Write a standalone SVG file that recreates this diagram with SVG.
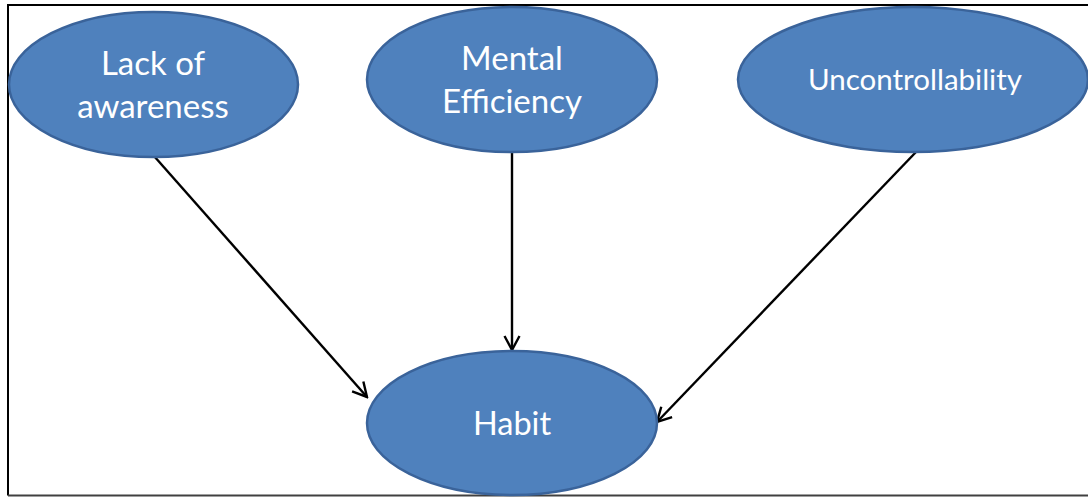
<svg xmlns="http://www.w3.org/2000/svg" width="1088" height="497" viewBox="0 0 1088 497">
  <style>
    .node ellipse { fill: #4f81bd; stroke: #3a639a; stroke-width: 2.5; }
    .node text { fill: #ffffff; font-family: Lato, "Open Sans", "Liberation Sans", sans-serif; text-anchor: middle; }
    .edge { stroke: #000000; stroke-width: 2.4; fill: none; marker-end: url(#open-arrow); }
  </style>
  <defs>
    <marker id="open-arrow" viewBox="0 0 18 18" refX="16" refY="9" markerWidth="18" markerHeight="18" markerUnits="userSpaceOnUse" orient="auto">
      <path d="M2,1.5 L16,9 L2,16.5" fill="none" stroke="#000000" stroke-width="2.4"/>
    </marker>
  </defs>

  <rect x="0" y="0" width="1088" height="497" fill="#ffffff"/>
  <!-- frame -->
  <path d="M1090,5 L8,5 L8,495.5" fill="none" stroke="#000000" stroke-width="2"/>
  <line x1="8" y1="495.5" x2="1090" y2="495.5" stroke="#404040" stroke-width="2"/>

  <g id="connectors">
    <line class="edge" x1="154" y1="156" x2="367" y2="397"/>
    <line class="edge" x1="512" y1="152" x2="512" y2="350"/>
    <line class="edge" x1="916" y1="152" x2="657" y2="422"/>
  </g>

  <g id="lack-of-awareness" class="node">
    <ellipse cx="153.5" cy="84.5" rx="144.5" ry="72.5"/>
    <text x="153" y="75" font-size="33">Lack of</text>
    <text x="153" y="118" font-size="33">awareness</text>
  </g>

  <g id="mental-efficiency" class="node">
    <ellipse cx="512" cy="79.5" rx="145" ry="72.5"/>
    <text x="512" y="70" font-size="33">Mental</text>
    <text x="512" y="113" font-size="33">Efficiency</text>
  </g>

  <g id="uncontrollability" class="node">
    <ellipse cx="913" cy="79.5" rx="175" ry="72.5"/>
    <text x="915" y="90" font-size="29.5">Uncontrollability</text>
  </g>

  <g id="habit" class="node">
    <ellipse cx="512" cy="423" rx="145" ry="72"/>
    <text x="512" y="435" font-size="32.5">Habit</text>
  </g>
</svg>
